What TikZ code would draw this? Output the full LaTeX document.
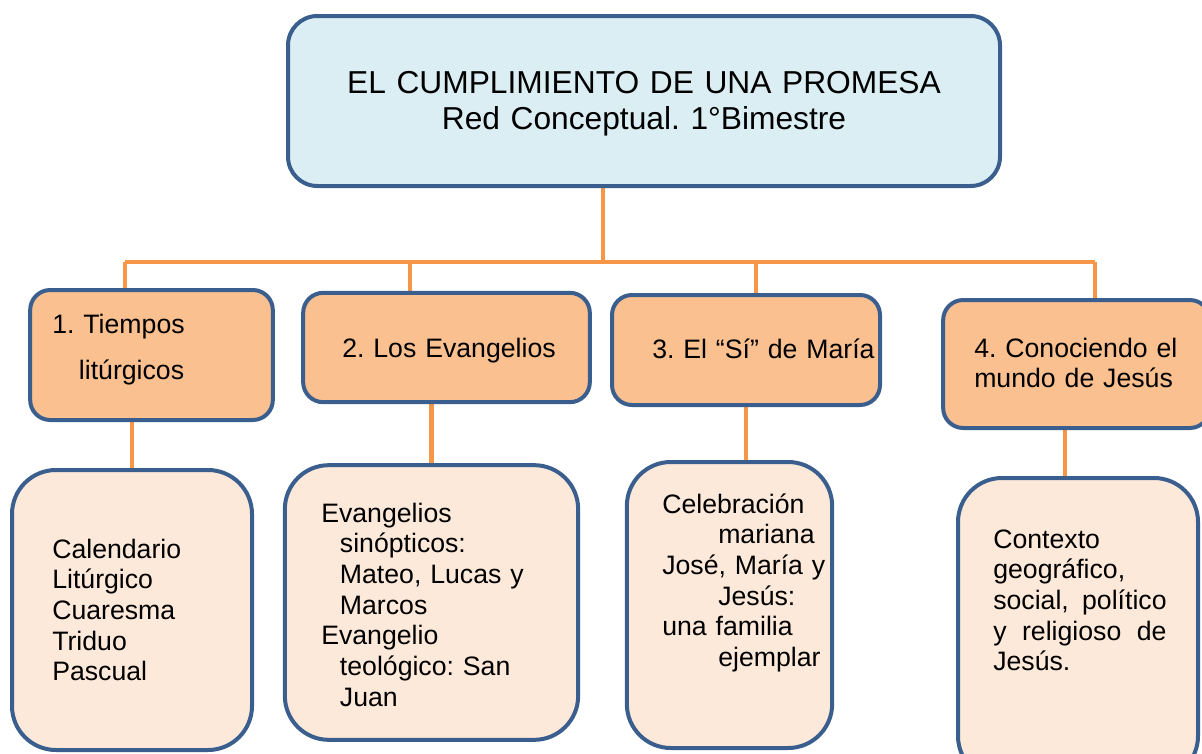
\documentclass[tikz,border=0pt]{standalone}
\usepackage{fontspec}
\setmainfont{Liberation Sans}
\usetikzlibrary{backgrounds}
\definecolor{frameblue}{HTML}{3A5F8E}
\definecolor{linkorange}{HTML}{F79646}
\definecolor{topfill}{HTML}{DBEEF3}
\definecolor{midfill}{HTML}{FAC090}
\definecolor{lowfill}{HTML}{FDE9D9}
\frenchspacing
\begin{document}
\begin{tikzpicture}[x=0.75pt,y=-0.75pt,
  topbox/.style={draw=frameblue,line width=3pt,fill=topfill,rounded corners=22pt},
  midbox/.style={draw=frameblue,line width=3pt,fill=midfill,rounded corners=15pt},
  lowbox/.style={draw=frameblue,line width=3pt,fill=lowfill,rounded corners=33pt},
  link/.style={draw=linkorange,line width=3.3pt},
  txt/.style={inner sep=0pt,align=left,anchor=base west,font=\fontsize{20}{23}\selectfont}]
\tikzstyle{every node}+=[inner sep=0pt]
\useasboundingbox (0,0) rectangle (1202,753);
% title
\node[topbox,minimum width=534pt,minimum height=127.5pt] (title) at (644,101) {};
\node[inner sep=0pt,text width=500pt,align=center,anchor=base,font=\fontsize{23.8}{27}\selectfont] (titletxt) at (644,93)
  {EL CUMPLIMIENTO DE UNA PROMESA\\Red Conceptual. 1°Bimestre};
% themes
\node[midbox,minimum width=182pt,minimum height=97.5pt] (c1) at (151.5,355) {};
\node[midbox,minimum width=215pt,minimum height=82pt] (c2) at (446.5,347.5) {};
\node[midbox,minimum width=201pt,minimum height=82.5pt] (c3) at (746,350) {};
\node[midbox,minimum width=200pt,minimum height=96pt] (c4) at (1076.5,364) {};
\node[txt,text width=160pt] (c1txt) at (52,333) {1. Tiempos\\[12pt]\hspace*{20pt}litúrgicos};
\node[txt,text width=180pt] (c2txt) at (342,357) {2. Los Evangelios};
\node[txt,text width=180pt] (c3txt) at (652,358) {3. El “Sí” de María};
\node[txt,text width=170pt] (c4txt) at (974,357) {4. Conociendo el\\mundo de Jesús};
% contents
\node[lowbox,minimum width=180pt,minimum height=210pt] (d1) at (132,610) {};
\node[lowbox,minimum width=220pt,minimum height=206pt] (d2) at (431.5,602.5) {};
\node[lowbox,minimum width=154pt,minimum height=214.5pt] (d3) at (729.5,605) {};
\node[lowbox,minimum width=180pt,minimum height=226.5pt] (d4) at (1078,629) {};
\node[txt,text width=140pt] (d1txt) at (52,558)
  {Calendario\\Litúrgico\\Cuaresma\\Triduo\\Pascual};
\node[txt,text width=170pt] (d2txt) at (321,522)
  {Evangelios\\\hspace*{14pt}sinópticos:\\\hspace*{14pt}Mateo, Lucas y\\\hspace*{14pt}Marcos\\
   Evangelio\\\hspace*{14pt}teológico: San\\\hspace*{14pt}Juan};
\node[txt,text width=125pt] (d3txt) at (662,513)
  {Celebración\\\hspace*{42pt}mariana\\José, María y\\\hspace*{42pt}Jesús:\\una familia\\\hspace*{42pt}ejemplar};
\node[txt,text width=130pt,align=justify] (d4txt) at (993,548)
  {Contexto\\geográfico,\\social, político\linebreak y religioso de\linebreak Jesús.};
% connectors
\coordinate (j0) at (603,262);
\coordinate (j1) at (125,262);
\coordinate (j2) at (410,262);
\coordinate (j3) at (756,262);
\coordinate (j4) at (1095,262);
\coordinate (k4) at (1065,0);
\begin{scope}[on background layer]
\draw[link] (j0 |- title.south) -- (j0);
\draw[link] (j1) -- (j4);
\draw[link] (j1) -- (j1 |- c1.north);
\draw[link] (j2) -- (j2 |- c2.north);
\draw[link] (j3) -- (j3 |- c3.north);
\draw[link] (j4) -- (j4 |- c4.north);
\draw[link] (d1.north |- c1.south) -- (d1.north);
\draw[link] (d2.north |- c2.south) -- (d2.north);
\draw[link] (c3.south) -- (c3.south |- d3.north);
\draw[link] (k4 |- c4.south) -- (k4 |- d4.north);
\end{scope}
\end{tikzpicture}
\end{document}
